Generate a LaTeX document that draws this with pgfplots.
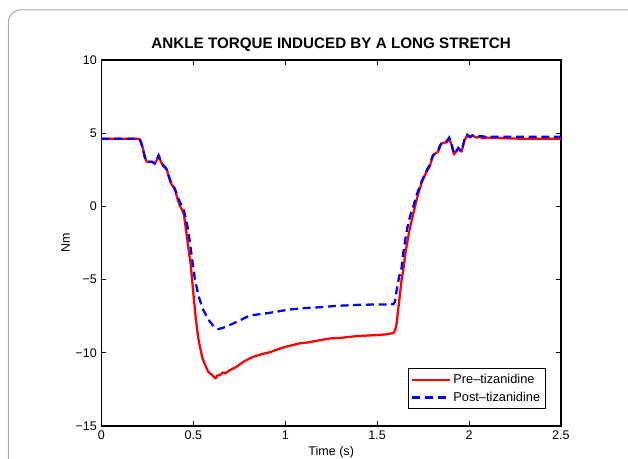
\documentclass[border=0pt]{standalone}
\usepackage{fontspec}
\setmainfont{Liberation Sans}
\usepackage{pgfplots}
\pgfplotsset{compat=1.18}

\pgfplotstableread{
t y
0 4.62
0.2 4.62
0.21 4.55
0.225 4.0
0.235 3.4
0.246 3.05
0.275 3.05
0.29 2.93
0.30 3.15
0.311 3.48
0.322 3.1
0.336 2.75
0.346 2.65
0.356 2.48
0.367 2.0
0.378 1.59
0.39 1.35
0.40 1.11
0.416 0.43
0.427 0.02
0.438 -0.2
0.449 -0.6
0.46 -1.6
0.472 -2.76
0.485 -3.9
0.5 -5.94
0.514 -7.77
0.527 -9.0
0.536 -9.59
0.55 -10.4
0.563 -10.8
0.581 -11.3
0.60 -11.5
0.621 -11.75
0.63 -11.55
0.645 -11.52
0.66 -11.35
0.675 -11.4
0.69 -11.25
0.735 -10.95
0.78 -10.55
0.826 -10.27
0.87 -10.1
0.92 -9.95
0.962 -9.75
1.0 -9.6
1.08 -9.35
1.12 -9.3
1.171 -9.18
1.243 -9.02
1.30 -8.98
1.389 -8.86
1.45 -8.82
1.497 -8.79
1.55 -8.74
1.588 -8.65
1.598 -8.45
1.606 -8.0
1.615 -7.0
1.624 -6.0
1.633 -5.0
1.642 -4.35
1.655 -3.1
1.669 -2.08
1.683 -1.2
1.697 -0.48
1.71 0.2
1.724 0.89
1.742 1.6
1.76 2.14
1.775 2.5
1.787 2.75
1.797 3.2
1.805 3.5
1.818 3.62
1.832 3.75
1.842 4.1
1.851 4.3
1.865 4.35
1.878 4.38
1.892 4.65
1.905 4.2
1.918 3.55
1.93 3.75
1.941 3.96
1.952 3.8
1.96 3.75
1.975 4.5
1.99 4.85
2.005 4.7
2.018 4.85
2.032 4.75
2.045 4.7
2.06 4.78
2.075 4.65
2.096 4.7
2.2 4.65
2.3 4.62
2.4 4.62
2.5 4.62
}\pretable

\pgfplotstableread{
t y
0 4.62
0.2 4.62
0.21 4.55
0.225 4.0
0.235 3.4
0.246 3.05
0.275 3.05
0.29 2.93
0.30 3.15
0.311 3.48
0.322 3.1
0.336 2.8
0.346 2.7
0.356 2.5
0.367 2.05
0.378 1.65
0.39 1.4
0.40 1.2
0.416 0.6
0.427 0.3
0.438 0.0
0.449 -0.3
0.46 -0.9
0.472 -1.62
0.49 -3.3
0.509 -5.03
0.53 -6.2
0.554 -7.08
0.59 -7.88
0.615 -8.25
0.636 -8.38
0.66 -8.3
0.699 -8.1
0.75 -7.8
0.808 -7.45
0.9 -7.3
0.971 -7.15
1.026 -7.04
1.1 -6.95
1.2 -6.88
1.261 -6.81
1.35 -6.75
1.406 -6.72
1.5 -6.7
1.588 -6.69
1.597 -6.5
1.606 -5.72
1.62 -4.8
1.633 -4.2
1.642 -3.2
1.655 -2.1
1.669 -1.16
1.683 -0.5
1.697 0.0
1.71 0.6
1.724 1.1
1.742 1.7
1.76 2.2
1.775 2.6
1.787 2.85
1.797 3.25
1.805 3.5
1.818 3.65
1.832 3.8
1.842 4.15
1.851 4.35
1.865 4.4
1.878 4.45
1.892 4.7
1.905 4.25
1.918 3.6
1.93 3.75
1.941 4.0
1.952 3.85
1.96 3.8
1.975 4.55
1.99 4.9
2.005 4.75
2.018 4.85
2.032 4.8
2.06 4.8
2.1 4.75
2.2 4.75
2.5 4.75
}\posttable

\begin{document}
\begin{tikzpicture}
\useasboundingbox (-76.1pt,-24pt) rectangle (394.9pt,319.5pt);
\begin{axis}[
    at={(0pt,0pt)}, anchor=south west,
    scale only axis,
    width=344.6pt, height=274.5pt,
    xmin=0, xmax=2.5,
    ymin=-15, ymax=10,
    xtick={0,0.5,1,1.5,2,2.5},
    xticklabels={0,0.5,1,1.5,2,2.5},
    ytick={-15,-10,-5,0,5,10},
    yticklabels={−15,−10,−5,0,5,10},
    tick pos=both,
    tick align=inside,
    major tick length=3.75pt,
    axis line style={line width=0.9pt},
    tick style={line width=0.6pt, black},
    ticklabel style={font=\fontsize{9.4}{11}\selectfont},
    title={ANKLE TORQUE INDUCED BY A LONG STRETCH},
    title style={font=\bfseries\fontsize{11.4}{13}\selectfont, at={(0.5,1)}, anchor=base, yshift=3pt},
    xlabel={Time (s)},
    ylabel={Nm},
    every axis x label/.style={at={(axis description cs:0.5,0)}, yshift=-19.5pt, anchor=center, font=\fontsize{9.4}{11}\selectfont},
    every axis y label/.style={at={(axis description cs:0,0.5)}, xshift=-27pt, rotate=90, anchor=center, font=\fontsize{9.4}{11}\selectfont},
    legend style={at={(axis description cs:1,0)}, anchor=south east, xshift=-11.25pt, yshift=12.75pt,
        font=\fontsize{9.6}{11}\selectfont, draw=black, line width=0.6pt, inner sep=2pt, row sep=1pt,
        legend cell align=left},
    legend image code/.code={\draw[#1] (0pt,0pt) -- (28pt,0pt);},
]
\addplot[red, line width=1.7pt, line join=round] table[x=t, y=y] {\pretable};
\addlegendentry{Pre–tizanidine}
\addplot[blue, line width=1.7pt, dash pattern=on 6pt off 3.5pt] table[x=t, y=y] {\posttable};
\addlegendentry{Post–tizanidine}
\end{axis}
\draw[gray!70, line width=0.75pt, rounded corners=9pt] (-69.9pt,-40pt) -- (-69.9pt,312pt) -- (420pt,312pt);
\end{tikzpicture}
\end{document}
